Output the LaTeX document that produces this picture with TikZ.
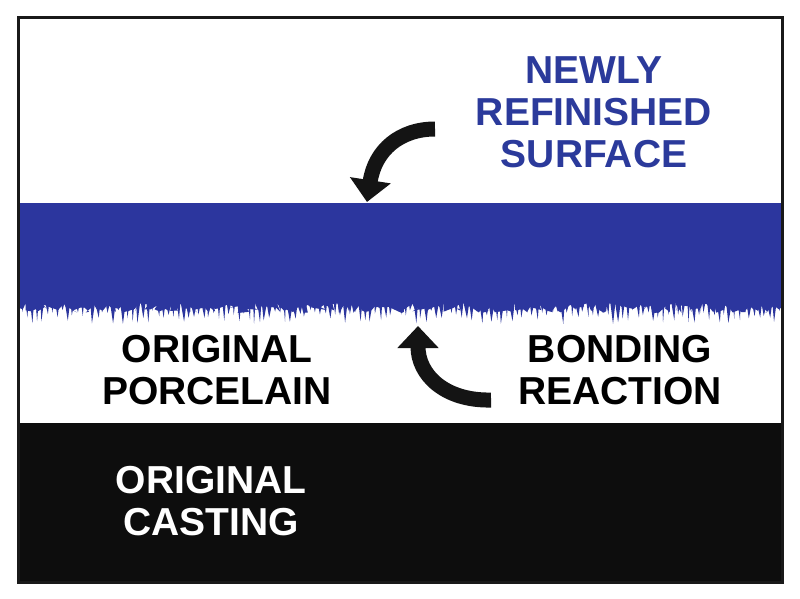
\documentclass[tikz,border=0pt]{standalone}
\usepackage{fontspec}
\setmainfont{Liberation Sans}
\usetikzlibrary{arrows.meta,decorations.pathmorphing}
\definecolor{bandblue}{RGB}{44,54,158}
\definecolor{textblue}{RGB}{43,58,155}
\begin{document}
\begin{tikzpicture}[x=1pt,y=-1pt,
  lbl/.style={font=\fontsize{39}{42}\selectfont\bfseries, align=center, inner sep=0pt},
  bigarrow/.style={line width=15pt, -{Triangle[width=40pt,length=22pt]}, black!92}
]
\useasboundingbox (0,0) rectangle (800,598);
\fill[white] (0,0) rectangle (800,598);
% black casting
\fill[black!95] (18,423) rectangle (782,582);
% blue band with jagged bottom
\pgfmathsetseed{7}
\fill[bandblue] (19,203) -- (781,203) -- (781,308)
  decorate[decoration={random steps, segment length=3pt, amplitude=5pt}] {-- (19,308)} -- cycle;
\foreach \i in {0,...,150}{
  \pgfmathsetmacro{\xx}{22+\i*5.05}
  \pgfmathsetmacro{\ll}{8+14*rnd}
  \pgfmathsetmacro{\ww}{1.2+2*rnd}
  \fill[bandblue] (\xx-\ww,302) -- (\xx+\ww,302) -- (\xx+1*rand,302+\ll) -- cycle;
}
% frame
\draw[line width=3pt, black!90] (18,17) rectangle (782,582);
% texts
\node[lbl, text=textblue] (newly) at (594,112) {NEWLY\\REFINISHED\\SURFACE};
\node[lbl] (porc) at (217,370) {ORIGINAL\\PORCELAIN};
\node[lbl] (bond) at (620,370) {BONDING\\REACTION};
\node[lbl, text=white] (cast) at (211,501) {ORIGINAL\\CASTING};
% arrows
\coordinate (t1) at (435,129);
\coordinate (h1) at (367,202);
\draw[bigarrow] (t1) .. controls (400,129) and (375,150) .. (h1);
\coordinate (t2) at (491,400);
\coordinate (h2) at (418,326);
\draw[bigarrow] (t2) .. controls (445,401) and (418,375) .. (h2);
\end{tikzpicture}
\end{document}
